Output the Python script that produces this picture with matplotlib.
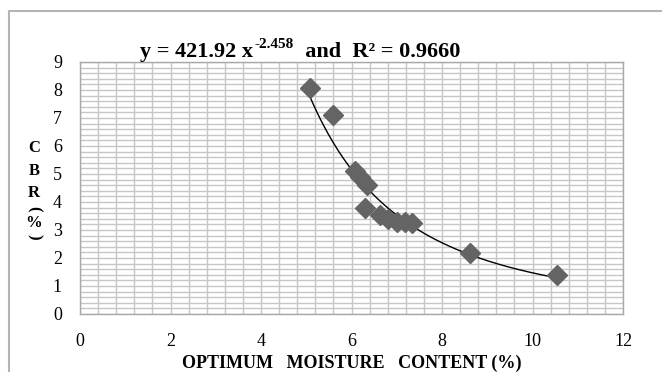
"""CBR vs optimum moisture content, power-law trend line."""
import matplotlib.pyplot as plt
import numpy as np
from matplotlib.lines import Line2D
from matplotlib.ticker import MultipleLocator

# data
omc = [5.08, 5.59, 6.08, 6.19, 6.34, 6.30, 6.63, 6.80, 7.00, 7.18, 7.34, 8.62, 10.54]
cbr = [8.07, 7.10, 5.10, 4.90, 4.62, 3.79, 3.54, 3.38, 3.29, 3.27, 3.24, 2.18, 1.39]

# trend line coefficients as printed in the chart
coef_a = 421.92
coef_b = -2.458
r_squared = "0.9660"

x_ticks = [0, 2, 4, 6, 8, 10, 12]
y_ticks = [0, 1, 2, 3, 4, 5, 6, 7, 8, 9]

plt.rcParams["font.family"] = ["Liberation Serif", "DejaVu Serif"]

W, H = 662, 372
fig = plt.figure(figsize=(W / 100, H / 100), dpi=100)
ax = fig.add_axes([80 / W, 1 - 314 / H, (623 - 80) / W, (314 - 62) / H])

grid_c = "#c6c6c6"
ax.set_xlim(0, 12)
ax.set_ylim(0, 9)
ax.set_xticks(x_ticks)
ax.set_yticks(y_ticks)
ax.xaxis.set_minor_locator(MultipleLocator(0.4))
ax.yaxis.set_minor_locator(MultipleLocator(0.2))
ax.grid(True, which="both", color=grid_c, linewidth=1.0)
ax.set_axisbelow(True)
ax.tick_params(which="both", length=0)
ax.tick_params(axis="x", labelsize=13, pad=14)
ax.tick_params(axis="y", labelsize=13, pad=13)
for s in ax.spines.values():
    s.set_color("#a8a8a8")
    s.set_linewidth(1.0)

xs = np.linspace(min(omc), max(omc), 200)
ax.plot(xs, coef_a * xs ** coef_b, color="black", linewidth=1.0, zorder=3)
ax.plot(omc, cbr, linestyle="none", marker="D", markersize=10,
        color="#646464", zorder=4)

# title: equation with a raised exponent, built from three pieces
t1 = fig.text(140 / W, 1 - 57 / H, f"y = {coef_a:.2f} x", fontsize=16,
              fontweight="bold", ha="left", va="baseline")
t2 = ax.annotate(f"{coef_b:.3f}", xy=(1, 0), xycoords=t1,
                 xytext=(1, 8), textcoords="offset points",
                 fontsize=11, fontweight="bold", ha="left", va="bottom",
                 annotation_clip=False)
t3 = ax.annotate(f"  and  R² = {r_squared}", xy=(1, 0), xycoords=(t2, t1),
                 xytext=(0, 0), textcoords="offset points",
                 fontsize=16, fontweight="bold", ha="left", va="bottom",
                 annotation_clip=False)

ax.set_xlabel("OPTIMUM   MOISTURE   CONTENT (%)", fontsize=13,
              fontweight="bold", labelpad=3)

# stacked y label, parentheses turned sideways
for ch, yy, rot in [("C", 148, 0), ("B", 171, 0), ("R", 193, 0),
                    ("(", 209, -90), ("%", 223, 0), (")", 237, -90)]:
    fig.text(34 / W, 1 - yy / H, ch, fontsize=12, fontweight="bold",
             ha="center", va="center", rotation=rot)

# chart-area border (left and top visible)
fig.add_artist(Line2D([9 / W, 9 / W, 1], [0, 1 - 11 / H, 1 - 11 / H],
                      transform=fig.transFigure, color="#b4b4b4", linewidth=1.5))

fig.savefig("out.png", dpi=100)
